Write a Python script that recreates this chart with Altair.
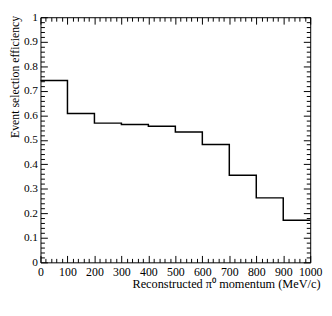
import altair as alt
import pandas as pd

# Histogram data (bin lower edges, efficiency per bin)
bin_edges = [0, 100, 200, 300, 400, 500, 600, 700, 800, 900, 1000]
efficiency = [0.742, 0.607, 0.568, 0.562, 0.555, 0.532, 0.481, 0.355, 0.263, 0.172]

# Axis tick values
x_major = [0, 100, 200, 300, 400, 500, 600, 700, 800, 900, 1000]
x_minor = [v for v in range(0, 1001, 20) if v % 100]
y_major = [0, 0.1, 0.2, 0.3, 0.4, 0.5, 0.6, 0.7, 0.8, 0.9, 1]
y_labels_expr = "datum.value == 0 ? '0' : datum.value == 1 ? '1' : format(datum.value, '.1f')"
y_minor = [round(v / 100, 2) for v in range(0, 101, 2) if v % 10]

x_title = "Reconstructed \u03c0\u2070 momentum (MeV/c)"
y_title = "Event selection efficiency"

W, H = 274, 249
FONT = "Liberation Serif"

df = pd.DataFrame({"x": bin_edges, "y": efficiency + [efficiency[-1]]})

xs = alt.Scale(domain=[0, 1000], nice=False, zero=False)
ys = alt.Scale(domain=[0, 1], nice=False, zero=False)


def tick_axis(orient, offset, values, size):
    return alt.Axis(orient=orient, offset=offset, values=values, tickSize=size,
                    tickColor="black", tickWidth=1, labels=False, domain=False,
                    grid=False, title=None)


base = alt.Chart(df)

main = base.mark_line(interpolate="step-after", color="black", strokeWidth=1.5).encode(
    x=alt.X("x:Q", scale=xs, axis=alt.Axis(
        orient="bottom", values=x_major, format="d", ticks=False, tickSize=0,
        domain=False, grid=False,
        labelFont=FONT, labelFontSize=12, labelColor="black", labelPadding=4,
        labelFlush=False, labelOverlap=False,
        title=x_title, titleFont=FONT, titleFontSize=12.5, titleFontWeight="normal",
        titleColor="black", titleAlign="right", titleBaseline="alphabetic",
        titleX=284, titleY=26)),
    y=alt.Y("y:Q", scale=ys, axis=alt.Axis(
        orient="left", values=y_major, labelExpr=y_labels_expr, ticks=False, tickSize=0,
        domain=False, grid=False,
        labelFont=FONT, labelFontSize=11.5, labelColor="black", labelPadding=3,
        labelFlush=False, labelOverlap=False,
        title=y_title, titleFont=FONT, titleFontSize=12, titleFontWeight="normal",
        titleColor="black", titleAngle=270, titleAlign="right", titleBaseline="middle",
        titleX=-26, titleY=-2)),
)

layers = [main]
for xo, yo in [("top", "right"), ("bottom", "left")]:
    for xv, yv, sz in [(x_major, y_major, 7), (x_minor, y_minor, 4)]:
        layers.append(base.mark_point(opacity=0).encode(
            x=alt.X("x:Q", scale=xs, axis=tick_axis(xo, -H, xv, sz)),
            y=alt.Y("y:Q", scale=ys, axis=tick_axis(yo, -W, yv, sz)),
        ))

chart = alt.layer(*layers).resolve_axis(x="independent", y="independent").properties(
    width=W, height=H,
    autosize=alt.AutoSizeParams(type="none"),
    padding={"left": 33, "top": 7, "right": 14, "bottom": 44},
).configure_view(stroke="black", strokeWidth=1)

chart.save("out.html", embed_options={"renderer": "svg", "actions": False})
